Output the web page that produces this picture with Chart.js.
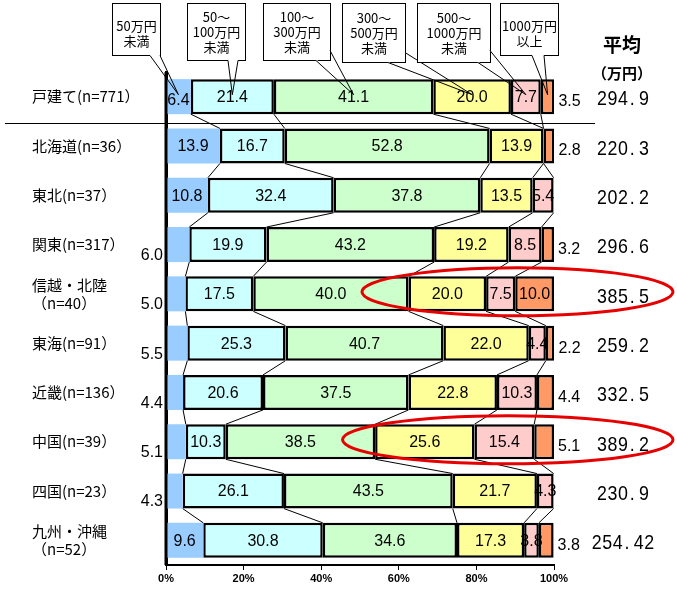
<!doctype html>
<html lang="ja">
 <head>
  <meta charset="utf-8">
  <title>地域別 平均</title>
  <style>
body { margin: 0; background: #fff; }
.chart-box { width: 677px; height: 595px; position: relative; }
  </style>
 </head>
 <body>
  <div class="chart-box"><canvas id="regionchart"></canvas></div>

  <script src="https://cdn.jsdelivr.net/npm/chart.js@4.4.1/dist/chart.umd.min.js"></script>
  <script>
// categories (y axis, top to bottom)
const categories = [
  '戸建て(n=771）', '北海道(n=36）', '東北(n=37）', '関東(n=317）',
  ['信越・北陸', '（n=40）'], '東海(n=91）', '近畿(n=136）', '中国(n=39）',
  '四国(n=23）', ['九州・沖縄', '（n=52）']
];

// shares in %, one array per income band
const under50      = [6.4, 13.9, 10.8, 6.0, 5.0, 5.5, 4.4, 5.1, 4.3, 9.6];
const from50to100  = [21.4, 16.7, 32.4, 19.9, 17.5, 25.3, 20.6, 10.3, 26.1, 30.8];
const from100to300 = [41.1, 52.8, 37.8, 43.2, 40.0, 40.7, 37.5, 38.5, 43.5, 34.6];
const from300to500 = [20.0, 13.9, 13.5, 19.2, 20.0, 22.0, 22.8, 25.6, 21.7, 17.3];
const from500to1000 = [7.7, 0, 5.4, 8.5, 7.5, 4.4, 10.3, 15.4, 4.3, 3.8];
const over1000     = [3.5, 2.8, 0, 3.2, 10.0, 2.2, 4.4, 5.1, 0, 3.8];

// average (万円), printed on the right
const averages = ['294.9', '220.3', '202.2', '296.6', '385.5', '259.2', '332.5', '389.2', '230.9', '254.42'];

// band names shown in the callouts
const bandNames = [
  ['50万円', '未満'],
  ['50～', '100万円', '未満'],
  ['100～', '300万円', '未満'],
  ['300～', '500万円', '未満'],
  ['500～', '1000万円', '未満'],
  ['1000万円', '以上']
];

const xTicks = [0, 20, 40, 60, 80, 100];

// rows circled in red, ring starts at this % on the x axis
const highlightRows = [4, 7];
const highlightFrom = [50.5, 45.5];

const bandColors = ['#99ccff', '#ccffff', '#ccffcc', '#ffff99', '#ffcccc', '#ff9966'];
const numFont = '"Liberation Sans", Arial, sans-serif';
const jpFont = '"Noto Sans CJK JP", sans-serif';

const seriesData = [under50, from50to100, from100to300, from300to500, from500to1000, over1000];

const datasets = seriesData.map(function (values, i) {
  return {
    label: bandNames[i].join(''),
    data: values,
    backgroundColor: bandColors[i],
    borderColor: i === 0 ? bandColors[0] : '#000',
    borderWidth: i === 0 ? 0 : 2.5,
    borderSkipped: false,
    barPercentage: 0.71,
    categoryPercentage: 1.0
  };
});

// callout boxes (pixel layout of the annotation boxes)
const calloutBoxes = [
  { x: 112, y: 3, w: 48, h: 52, base: [[150, 55], [160, 55]] },
  { x: 187, y: 3, w: 58, h: 57, base: [[228, 60], [238, 60]] },
  { x: 263, y: 3, w: 67, h: 57, base: [[316, 60], [330, 50]] },
  { x: 342, y: 3, w: 63, h: 59, base: [[388, 62], [405, 52]] },
  { x: 417, y: 3, w: 73, h: 59, base: [[478, 62], [490, 50]] },
  { x: 500, y: 3, w: 58, h: 52, base: [[532, 55], [544, 55]] }
];

function drawMono(ctx, text, cx, cy) {
  var cell = 10.5;
  var x = cx - text.length * cell / 2;
  ctx.font = '21px ' + numFont;
  ctx.textBaseline = 'middle';
  for (const ch of text) {
    ctx.save();
    if (ch === '.') {
      ctx.textAlign = 'left';
      ctx.translate(x + 1.5, cy);
    } else {
      ctx.textAlign = 'center';
      ctx.translate(x + cell / 2, cy);
    }
    ctx.scale(0.85, 1);
    ctx.fillText(ch, 0, 0);
    ctx.restore();
    x += cell;
  }
}

const decorPlugin = {
  id: 'decor',
  afterDatasetsDraw: function (chart) {
    const ctx = chart.ctx;
    const xs = chart.scales.x;
    const area = chart.chartArea;
    const bars = chart.getDatasetMeta(0).data;
    ctx.save();

    // y axis line again, on top of the bars
    ctx.strokeStyle = '#000';
    ctx.lineWidth = 3;
    ctx.beginPath();
    ctx.moveTo(area.left, area.top);
    ctx.lineTo(area.left, area.bottom);
    ctx.stroke();

    // connector lines between neighbouring bars
    ctx.lineWidth = 1;
    for (let r = 0; r < categories.length - 1; r++) {
      let c1 = 0, c2 = 0;
      for (let s = 0; s < seriesData.length - 1; s++) {
        c1 += seriesData[s][r];
        c2 += seriesData[s][r + 1];
        const y1 = bars[r].y + bars[r].height / 2;
        const y2 = bars[r + 1].y - bars[r + 1].height / 2;
        ctx.beginPath();
        ctx.moveTo(xs.getPixelForValue(c1), y1);
        ctx.lineTo(xs.getPixelForValue(c2), y2);
        ctx.stroke();
      }
    }

    // separator under the first row
    ctx.beginPath();
    ctx.moveTo(5, 123.5);
    ctx.lineTo(595, 123.5);
    ctx.stroke();

    // value labels
    ctx.fillStyle = '#000';
    ctx.font = '16px ' + numFont;
    ctx.textBaseline = 'middle';
    for (let r = 0; r < categories.length; r++) {
      let cum = 0;
      const cy = bars[r].y;
      for (let s = 0; s < seriesData.length; s++) {
        const v = seriesData[s][r];
        const x0 = xs.getPixelForValue(cum);
        cum += v;
        const x1 = xs.getPixelForValue(cum);
        if (!v) continue;
        const txt = v.toFixed(1);
        if (s === 0 && x1 - x0 < 24) {
          ctx.textAlign = 'right';
          ctx.fillText(txt, 163, cy + 11);
        } else if (s === seriesData.length - 1 && x1 - x0 < 30) {
          ctx.textAlign = 'left';
          ctx.fillText(txt, x1 + 4, cy + 5);
        } else {
          ctx.textAlign = 'center';
          ctx.fillText(txt, (x0 + x1) / 2, cy + (r === 0 && s === 0 ? 4 : 1));
        }
      }
    }

    // averages on the right
    ctx.textAlign = 'center';
    ctx.font = 'bold 19px ' + jpFont;
    ctx.fillText('平均', 622, 45);
    ctx.font = 'bold 15px ' + jpFont;
    ctx.fillText('（万円）', 622, 73);
    for (let r = 0; r < categories.length; r++) {
      drawMono(ctx, averages[r], 623, bars[r].y + 3);
    }

    // callouts pointing at the first row
    let cum = 0;
    calloutBoxes.forEach(function (b, i) {
      const v = seriesData[i][0];
      const tipX = xs.getPixelForValue(cum + v / 2);
      const tipY = bars[0].y - 2;
      cum += v;
      ctx.fillStyle = '#fff';
      ctx.fillRect(b.x, b.y, b.w, b.h);
      ctx.strokeStyle = '#000';
      ctx.lineWidth = 1;
      ctx.strokeRect(b.x + 0.5, b.y + 0.5, b.w, b.h);
      // open the border where the wedge leaves the box
      ctx.strokeStyle = '#fff';
      ctx.lineWidth = 2;
      ctx.beginPath();
      ctx.moveTo(b.base[0][0], b.base[0][1] + 0.5);
      ctx.lineTo(b.base[1][0], b.base[1][1] + 0.5);
      ctx.stroke();
      ctx.strokeStyle = '#000';
      ctx.lineWidth = 1;
      ctx.beginPath();
      ctx.moveTo(b.base[0][0], b.base[0][1] + 0.5);
      ctx.lineTo(tipX, tipY);
      ctx.lineTo(b.base[1][0], b.base[1][1] + 0.5);
      ctx.stroke();
      ctx.fillStyle = '#000';
      ctx.font = '13px ' + jpFont;
      ctx.textAlign = 'center';
      const lines = bandNames[i];
      const lh = 15;
      const mid = b.y + b.h / 2 + 0.5 + (3 - lines.length) * 4;
      lines.forEach(function (t, k) {
        ctx.fillText(t, b.x + b.w / 2 + 0.5, mid + (k - (lines.length - 1) / 2) * lh);
      });
    });

    // red rings
    ctx.strokeStyle = '#e60000';
    ctx.lineWidth = 3;
    highlightRows.forEach(function (r, k) {
      const left = xs.getPixelForValue(highlightFrom[k]);
      const right = 673;
      ctx.beginPath();
      ctx.ellipse((left + right) / 2, bars[r].y - 2, (right - left) / 2, 24, 0, 0, Math.PI * 2);
      ctx.stroke();
    });

    ctx.restore();
  }
};

const chartConfig = {
  type: 'bar',
  data: { labels: categories, datasets: datasets },
  options: {
    indexAxis: 'y',
    animation: false,
    responsive: true,
    maintainAspectRatio: false,
    layout: { padding: { left: 32, right: 123, top: 72, bottom: 0 } },
    scales: {
      x: {
        stacked: true,
        min: 0,
        max: 100,
        afterBuildTicks: function (scale) {
          scale.ticks = xTicks.map(function (v) { return { value: v }; });
        },
        afterFit: function (scale) { scale.height = 30; },
        ticks: {
          callback: function (v) { return v + '%'; },
          color: '#000',
          font: { family: numFont, size: 11, weight: 'bold' },
          padding: 2
        },
        grid: { drawOnChartArea: false, drawTicks: true, tickLength: 5, color: '#000', tickWidth: 1 },
        border: { color: '#000', width: 2 }
      },
      y: {
        stacked: true,
        afterFit: function (scale) { scale.width = 134; },
        ticks: {
          crossAlign: 'far',
          color: '#000',
          font: { family: jpFont, size: 15, lineHeight: 1.2 }
        },
        grid: { display: false },
        border: { color: '#000', width: 3 }
      }
    },
    plugins: {
      legend: { display: false },
      tooltip: { enabled: false }
    }
  },
  plugins: [decorPlugin]
};

const regionChart = new Chart(document.getElementById('regionchart'), chartConfig);
  </script>
 </body>
</html>
